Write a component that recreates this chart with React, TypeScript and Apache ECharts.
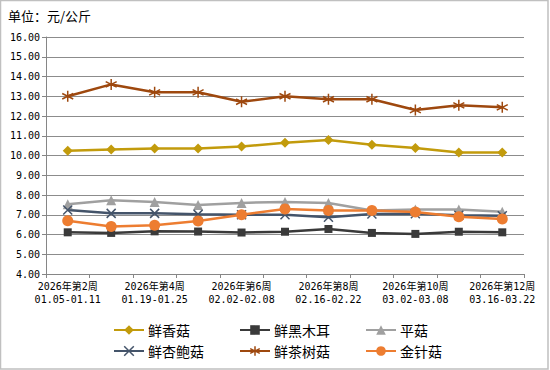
import React, { useEffect, useRef } from "react";
import * as echarts from "echarts";

const weeks = ["2026年第2周", "2026年第3周", "2026年第4周", "2026年第5周", "2026年第6周", "2026年第7周", "2026年第8周", "2026年第9周", "2026年第10周", "2026年第11周", "2026年第12周"];
const dateRanges = ["01.05-01.11", "01.12-01.18", "01.19-01.25", "01.26-02.01", "02.02-02.08", "02.09-02.15", "02.16-02.22", "02.23-03.01", "03.02-03.08", "03.09-03.15", "03.16-03.22"];

const xianxianggu = [10.24, 10.3, 10.35, 10.36, 10.45, 10.65, 10.78, 10.55, 10.38, 10.15, 10.15];
const xianheimuer = [6.11, 6.08, 6.16, 6.15, 6.1, 6.14, 6.28, 6.08, 6.03, 6.14, 6.11];
const pinggu = [7.53, 7.73, 7.65, 7.49, 7.6, 7.65, 7.6, 7.22, 7.27, 7.27, 7.15];
const xingbaogu = [7.24, 7.07, 7.07, 7.02, 7.0, 7.0, 6.87, 7.04, 7.05, 6.97, 6.95];
const chashugu = [13.0, 13.6, 13.2, 13.2, 12.72, 13.0, 12.85, 12.85, 12.3, 12.54, 12.44];
const jinzhengu = [6.7, 6.41, 6.47, 6.68, 7.0, 7.29, 7.22, 7.22, 7.14, 6.9, 6.78];

const seriesNames = ["鲜香菇", "鲜黑木耳", "平菇", "鲜杏鲍菇", "鲜茶树菇", "金针菇"];

const CROSS = "path://M0,0L10,10M10,0L0,10";
const STAR = "path://M5,0L5,10M0.7,2.5L9.3,7.5M9.3,2.5L0.7,7.5";

export default function App() {
  const ref = useRef<HTMLDivElement>(null);
  useEffect(() => {
    if (!ref.current) return;
    const chart = echarts.init(ref.current, undefined, { renderer: "svg" });
    const categories = weeks.map((w, i) => w + "\n" + dateRanges[i]);
    const cfg = [
      { name: seriesNames[0], data: xianxianggu, color: "#C29B0C", symbol: "diamond", size: 10, stroke: false },
      { name: seriesNames[1], data: xianheimuer, color: "#3A3A3A", symbol: "rect", size: 8, stroke: false },
      { name: seriesNames[2], data: pinggu, color: "#A0A0A0", symbol: "triangle", size: 10, stroke: false },
      { name: seriesNames[3], data: xingbaogu, color: "#44546A", symbol: CROSS, size: 9, stroke: true },
      { name: seriesNames[4], data: chashugu, color: "#9E480E", symbol: STAR, size: 11, stroke: true },
      { name: seriesNames[5], data: jinzhengu, color: "#ED7D31", symbol: "circle", size: 11, stroke: false },
    ];
    const series = cfg.map((c) => ({
      name: c.name,
      type: "line",
      data: c.data,
      symbol: c.symbol,
      symbolSize: c.size,
      showAllSymbol: true,
      lineStyle: { color: c.color, width: 2.5 },
      itemStyle: c.stroke
        ? { color: c.color, borderColor: c.color, borderWidth: 1.5 }
        : { color: c.color, borderWidth: 0 },
    }));
    const legendItem = (i: number) => {
      const c = cfg[i];
      return c.stroke
        ? { name: c.name, itemStyle: { color: c.color, borderColor: c.color, borderWidth: 1.5 } }
        : { name: c.name };
    };
    const legendBase = {
      orient: "vertical",
      top: 318,
      itemWidth: 30,
      itemHeight: 12,
      itemGap: 7,
      textStyle: { fontSize: 14, color: "#000", fontFamily: "'Noto Sans CJK SC'", padding: [0, 0, 0, -1] },
    };
    chart.setOption({
      animation: false,
      backgroundColor: "#fff",
      title: {
        text: "单位：元/公斤",
        left: 3,
        top: 4,
        textStyle: { fontSize: 13, fontWeight: "normal", color: "#000", fontFamily: "'Noto Sans CJK SC'" },
      },
      graphic: [
        {
          type: "rect",
          shape: { x: 0.5, y: 0.5, width: 547.5, height: 368.5 },
          style: { fill: "none", stroke: "#c0c0c0", lineWidth: 1.5 },
          silent: true,
        },
      ],
      legend: [
        { ...legendBase, left: 108, data: [legendItem(0), legendItem(3)] },
        { ...legendBase, left: 234, data: [legendItem(1), legendItem(4)] },
        { ...legendBase, left: 360, data: [legendItem(2), legendItem(5)] },
      ],
      grid: { left: 46, right: 26, top: 37, bottom: 96 },
      xAxis: {
        type: "category",
        data: categories,
        boundaryGap: true,
        axisLine: { lineStyle: { color: "#868686", width: 1 } },
        axisTick: { show: true, interval: 0, length: 4, lineStyle: { color: "#868686" } },
        axisLabel: {
          interval: 1,
          color: "#000",
          fontSize: 10,
          lineHeight: 13,
          margin: 6,
          fontFamily: "'DejaVu Sans Mono', 'Noto Sans CJK SC'",
        },
      },
      yAxis: {
        type: "value",
        min: 4,
        max: 16,
        interval: 1,
        axisLine: { show: true, lineStyle: { color: "#868686", width: 1 } },
        axisTick: { show: true, length: 4, lineStyle: { color: "#868686" } },
        splitLine: { lineStyle: { color: "#8c8c8c", width: 1 } },
        axisLabel: {
          color: "#000",
          fontSize: 10,
          margin: 6,
          fontFamily: "'DejaVu Sans Mono', 'Noto Sans CJK SC'",
          formatter: (v: number) => v.toFixed(2),
        },
      },
      series,
    });
    return () => chart.dispose();
  }, []);
  return <div ref={ref} style={{ position: "absolute", left: 0, top: 0, width: 550, height: 370 }} />;
}
